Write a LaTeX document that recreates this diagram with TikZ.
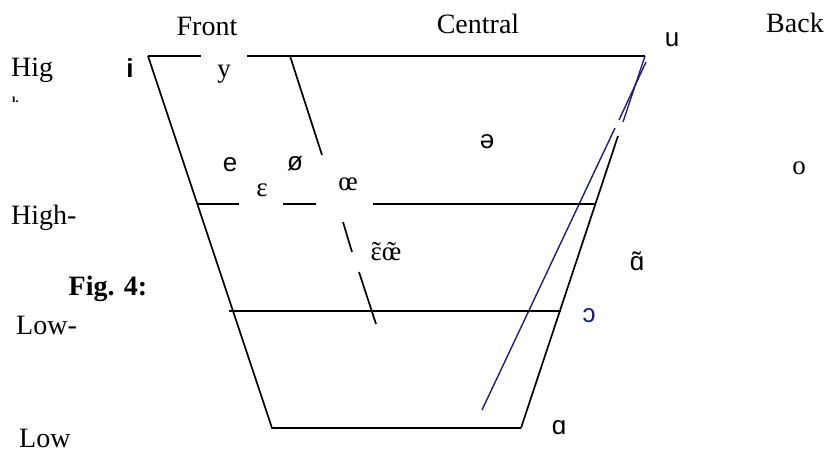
\documentclass[tikz,border=0pt]{standalone}
\usepackage{fontspec}
\setmainfont{Liberation Serif}
\newfontfamily\ipasans{Liberation Sans}
\definecolor{inkblue}{rgb}{0.12,0.12,0.42}
\newcommand\tld[1]{\ooalign{#1\cr\hidewidth\char"02DC\hidewidth\cr}}
\begin{document}
\begin{tikzpicture}[x=1pt,y=-1pt,
  lbl/.style={inner sep=0pt,font=\fontsize{28}{32}\selectfont},
  vow/.style={inner sep=0pt,font=\fontsize{27}{30}\selectfont},
  vows/.style={inner sep=0pt,font=\fontsize{26}{30}\selectfont\ipasans},
  ln/.style={line width=1.7pt,black},
  lnb/.style={line width=1.4pt,inkblue}]
\useasboundingbox (0,0) rectangle (827,455);
% corners
\coordinate (TL) at (148,56);
\coordinate (TLe) at (201,56);
\coordinate (TMs) at (247,56);
\coordinate (TR) at (645,56);
\coordinate (BL) at (272,428);
\coordinate (BR) at (521,428);
% right side with gap
\coordinate (RSa) at (623,122);
\coordinate (RSb) at (618,136);
% diagonal from u
\coordinate (DGs) at (646,62);
\coordinate (DGa) at (619,120);
\coordinate (DGb) at (615,128);
\coordinate (DGe) at (482,410);
% high-mid line pieces
\coordinate (HM1) at (197,204);
\coordinate (HM2) at (239,204);
\coordinate (HM3) at (283,204);
\coordinate (HM4) at (316,204);
\coordinate (HM5) at (373,204);
\coordinate (HM6) at (595,204);
% low-mid line
\coordinate (LM1) at (229,311);
\coordinate (LM2) at (561,311);
% front rounded diagonal
\coordinate (FD1) at (290,56);
\coordinate (FD2) at (322,155);
\coordinate (FD3) at (343,222);
\coordinate (FD4) at (352,252);
\coordinate (FD5) at (359,272);
\coordinate (FD6) at (376,324);

\draw[ln] (TL) -- (TLe);
\draw[ln] (TMs) -- (TR);
\draw[ln] (TL) -- (BL) -- (BR);
\draw[lnb] (TR) -- (RSa);
\draw[ln] (RSb) -- (BR);
\draw[lnb] (DGs) -- (DGa);
\draw[lnb] (DGb) -- (DGe);
\draw[ln] (HM1) -- (HM2);
\draw[ln] (HM3) -- (HM4);
\draw[ln] (HM5) -- (HM6);
\draw[ln] (LM1) -- (LM2);
\draw[ln] (FD1) -- (FD2);
\draw[ln] (FD3) -- (FD4);
\draw[ln] (FD5) -- (FD6);

% headings
\node[lbl] (front) at (207,26) {Front};
\node[lbl] (central) at (478,24) {Central};
\node[lbl] (back) at (795,23) {Back};
\node[lbl,anchor=west] (hig) at (11,70) {Hig};
\node[inner sep=0pt,font=\fontsize{12}{12}\selectfont\bfseries,anchor=west] (hfrag) at (12,100) {ı.};
\node[lbl,anchor=west] (highmid) at (11,218) {High-};
\node[inner sep=0pt,font=\fontsize{28}{32}\selectfont\bfseries] (fig) at (108,289) {Fig. 4:};
\node[lbl,anchor=west] (lowmid) at (16,325) {Low-};
\node[lbl,anchor=base west] (low) at (19,447) {Low};

% vowels
\node[vows,font=\fontsize{26}{30}\selectfont\ipasans\bfseries] (vi) at (130,68) {i};
\node[vow] (vy) at (224,74) {y};
\node[vows] (vu) at (672,40) {u};
\node[vows] (ve) at (230,165) {e};
\node[vows] (voe) at (295,164) {ø};
\node[vow] (veps) at (262,190) {ɛ};
\node[vow] (voelig) at (348,184) {œ};
\node[vows] (vschwa) at (487,142) {ə};
\node[vow] (vo) at (799,168) {o};
\node[vow] (vnas) at (386,254) {\tld{ɛ}\tld{œ}};
\node[vows] (vanas) at (637,261) {ɑ̃};
\node[vows,text=inkblue] (vopen) at (589,316) {ɔ};
\node[vows] (va) at (559,428) {ɑ};
\end{tikzpicture}
\end{document}
